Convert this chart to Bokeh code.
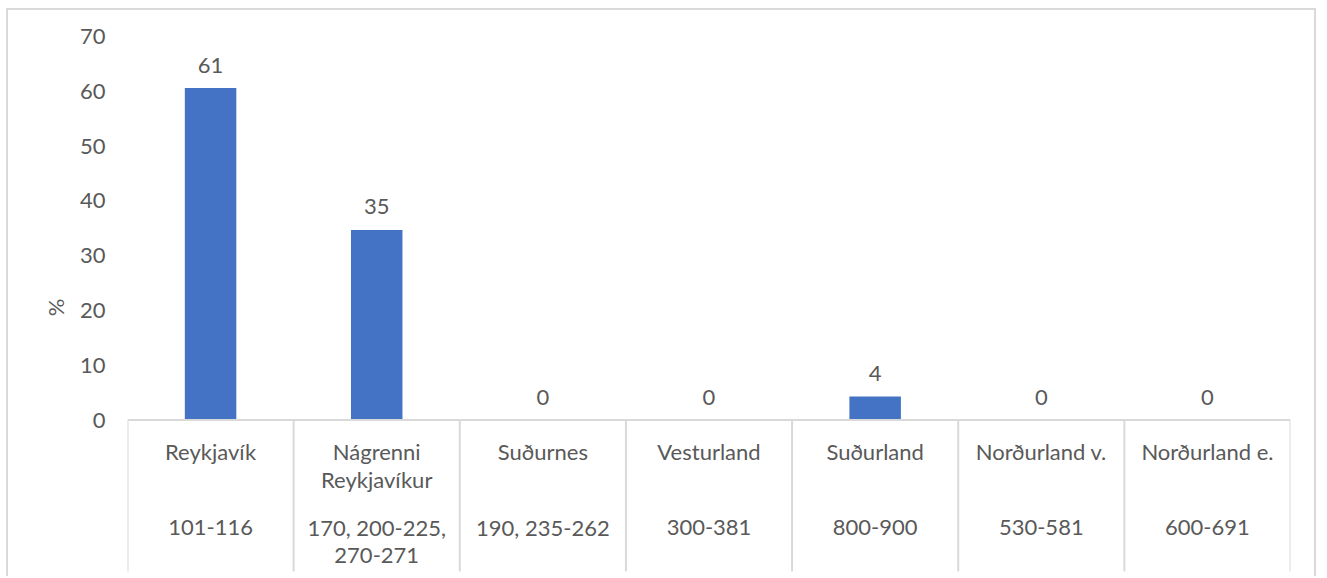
from bokeh.plotting import figure
from bokeh.models import Range1d, FixedTicker, ColumnDataSource
from bokeh.core.properties import value
from bokeh.embed import file_html
from bokeh.resources import INLINE

regions = ["Reykjavík", "Nágrenni\nReykjavíkur", "Suðurnes", "Vesturland",
           "Suðurland", "Norðurland v.", "Norðurland e."]
postcodes = ["101-116", "170, 200-225,\n270-271", "190, 235-262", "300-381",
             "800-900", "530-581", "600-691"]
values = [60.6, 34.7, 0, 0, 4.3, 0, 0]
value_labels = ["61", "35", "0", "0", "4", "0", "0"]
y_ticks = [0, 10, 20, 30, 40, 50, 60, 70]

FONT = "Lato"
FS = "22px"
TXT = "#595959"
GRID = "#d9d9d9"
BLUE = "#4472C4"

n = len(regions)
xc = [i + 0.5 for i in range(n)]


def split2(items):
    a, b = [], []
    for s in items:
        parts = s.split("\n")
        a.append(parts[0])
        b.append(parts[1] if len(parts) > 1 else "")
    return a, b


reg1, reg2 = split2(regions)
pc1, pc2 = split2(postcodes)

p = figure(width=1310, height=568, output_backend="svg", toolbar_location=None,
           x_range=Range1d(0, n), y_range=Range1d(-28.9, 70),
           min_border_left=119, min_border_right=28, min_border_top=26,
           min_border_bottom=0)
p.styles = {"border-top": "2px solid #d9d9d9", "border-left": "2px solid #d9d9d9",
            "border-right": "2px solid #d9d9d9",
            "margin-left": "6px", "margin-top": "8px"}
p.outline_line_color = None
p.xgrid.visible = False
p.ygrid.visible = False
p.xaxis.visible = False

ya = p.yaxis[0]
ya.ticker = FixedTicker(ticks=y_ticks)
ya.axis_line_color = None
ya.major_tick_line_color = None
ya.minor_tick_line_color = None
ya.major_tick_out = 0
ya.major_tick_in = 0
ya.minor_tick_out = 0
ya.major_label_standoff = 22
ya.major_label_text_font = FONT
ya.major_label_text_font_size = FS
ya.major_label_text_color = TXT
ya.axis_label = "%"
ya.axis_label_text_font = FONT
ya.axis_label_text_font_style = "normal"
ya.axis_label_text_font_size = FS
ya.axis_label_text_color = TXT
ya.axis_label_standoff = 8

src = ColumnDataSource(dict(x=xc, top=values, lab=value_labels,
                            reg1=reg1, reg2=reg2, pc1=pc1, pc2=pc2))

p.vbar(x="x", top="top", bottom=0, width=0.31, source=src,
       fill_color=BLUE, line_color=None)

p.text(x="x", y="top", text="lab", source=src, text_align="center",
       text_baseline="middle", y_offset=-23, text_font=value(FONT),
       text_font_size=FS, text_color=TXT)

# category table
p.segment(x0=0, y0=0, x1=n, y1=0, line_color=GRID, line_width=2)
p.segment(x0=list(range(n + 1)), y0=[0] * (n + 1),
          x1=list(range(n + 1)), y1=[-27.6] * (n + 1),
          line_color=GRID, line_width=2)

for col, yy in (("reg1", -5.75), ("reg2", -10.85), ("pc1", -19.6), ("pc2", -24.7)):
    p.text(x="x", y=yy, text=col, source=src, text_align="center",
           text_baseline="middle", text_font=value(FONT),
           text_font_size=FS, text_color=TXT)

open("out.html", "w").write(file_html(p, INLINE))
